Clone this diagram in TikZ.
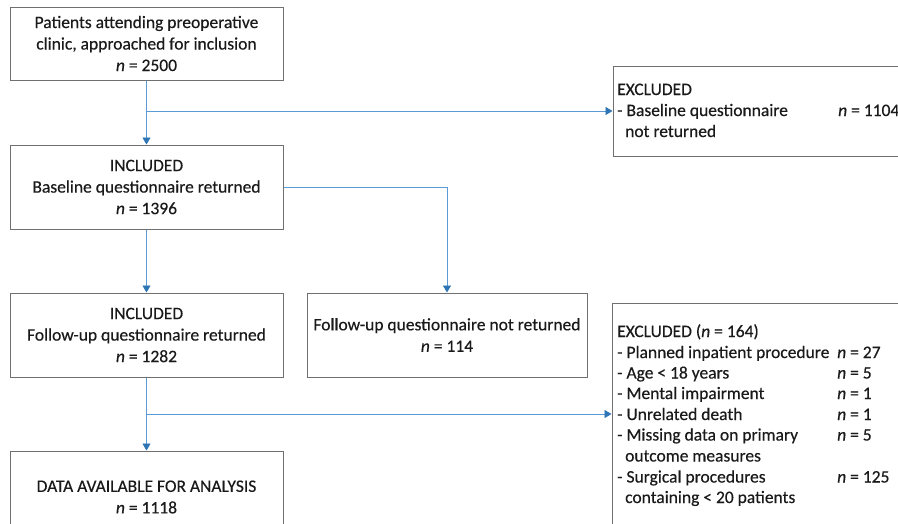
\documentclass[tikz,border=0pt]{standalone}
\usepackage{fontspec}
\setmainfont{Carlito}[UprightFeatures={FakeBold=0.35},ItalicFeatures={FakeBold=0.35}]
\usetikzlibrary{arrows.meta}
\definecolor{boxline}{HTML}{707070}
\definecolor{connc}{HTML}{5B9BD5}
\definecolor{tipc}{HTML}{2E75B6}
\definecolor{txt}{HTML}{1A1A1A}
\tikzset{
 box/.style={draw=boxline, line width=1pt, rectangle, align=center, inner sep=0pt, text=txt, font=\fontsize{17.5}{21.5}\selectfont},
 conn/.style={draw=connc, line width=0.9pt, -{Triangle[length=7pt,width=8pt,color=tipc]}},
 lbl/.style={anchor=base west, inner sep=0pt, text=txt, font=\fontsize{17.5}{21}\selectfont},
}
\begin{document}
\begin{tikzpicture}[x=1pt,y=-1pt]
\useasboundingbox (0,0) rectangle (898,523);
\clip (0,0) rectangle (898,523);
\fill[white] (0,0) rectangle (898,523);
% main column
\node[box, minimum width=273pt, minimum height=73pt] (b1) at (146.5,43.5) {Patients attending preoperative\\clinic, approached for inclusion\\\textit{n} = 2500};
\node[box, minimum width=273pt, minimum height=84pt] (b2) at (146.5,187) {INCLUDED\\Baseline questionnaire returned\\\textit{n} = 1396};
\node[box, minimum width=273pt, minimum height=84pt] (b3) at (146.5,335) {INCLUDED\\Follow-up questionnaire returned\\\textit{n} = 1282};
\node[box, minimum width=280pt, minimum height=84pt] (b4) at (447,335) {Follow-up questionnaire not returned\\\textit{n} = 114};
\node[box, minimum width=273pt, minimum height=92pt] (b5) at (146.5,497) {DATA AVAILABLE FOR ANALYSIS\\\textit{n} = 1118};
% excluded boxes
\node[box, minimum width=347pt, minimum height=90pt] (e1) at (786.5,111) {};
\node[box, minimum width=348pt, minimum height=257pt] (e2) at (786,431.5) {};
% excluded 1 text
\node[lbl] (e1a) at (617,95) {EXCLUDED};
\node[lbl] (e1b) at (617,116) {- Baseline questionnaire};
\node[lbl] (e1c) at (625,137) {not returned};
\node[lbl] (e1n) at (838,116) {\textit{n} = 1104};
% excluded 2 text
\node[lbl] (r1) at (617,337) {EXCLUDED (\textit{n} = 164)};
\node[lbl] (r2) at (617,358) {- Planned inpatient procedure};
\node[lbl] (r3) at (617,378.5) {- Age < 18 years};
\node[lbl] (r4) at (617,399) {- Mental impairment};
\node[lbl] (r5) at (617,420) {- Unrelated death};
\node[lbl] (r6) at (617,440.5) {- Missing data on primary};
\node[lbl] (r7) at (625,461.5) {outcome measures};
\node[lbl] (r8) at (617,482.5) {- Surgical procedures};
\node[lbl] (r9) at (625,503) {containing < 20 patients};
\node[lbl] (n2) at (837,358) {\textit{n} = 27};
\node[lbl] (n3) at (837,378.5) {\textit{n} = 5};
\node[lbl] (n4) at (837,399) {\textit{n} = 1};
\node[lbl] (n5) at (837,420) {\textit{n} = 1};
\node[lbl] (n6) at (837,440.5) {\textit{n} = 5};
\node[lbl] (n8) at (837,482.5) {\textit{n} = 125};
% connectors
\coordinate (j1) at (b1.south |- 0,111);
\coordinate (j2) at (b3.south |- 0,414);
\draw[conn] (b1.south) -- (b2.north);
\draw[conn] (j1) -- (j1 -| e1.west);
\draw[conn] (b2.east) -| (b4.north);
\draw[conn] (b2.south) -- (b3.north);
\draw[conn] (b3.south) -- (b5.north);
\draw[conn] (j2) -- (j2 -| e2.west);
\end{tikzpicture}
\end{document}
